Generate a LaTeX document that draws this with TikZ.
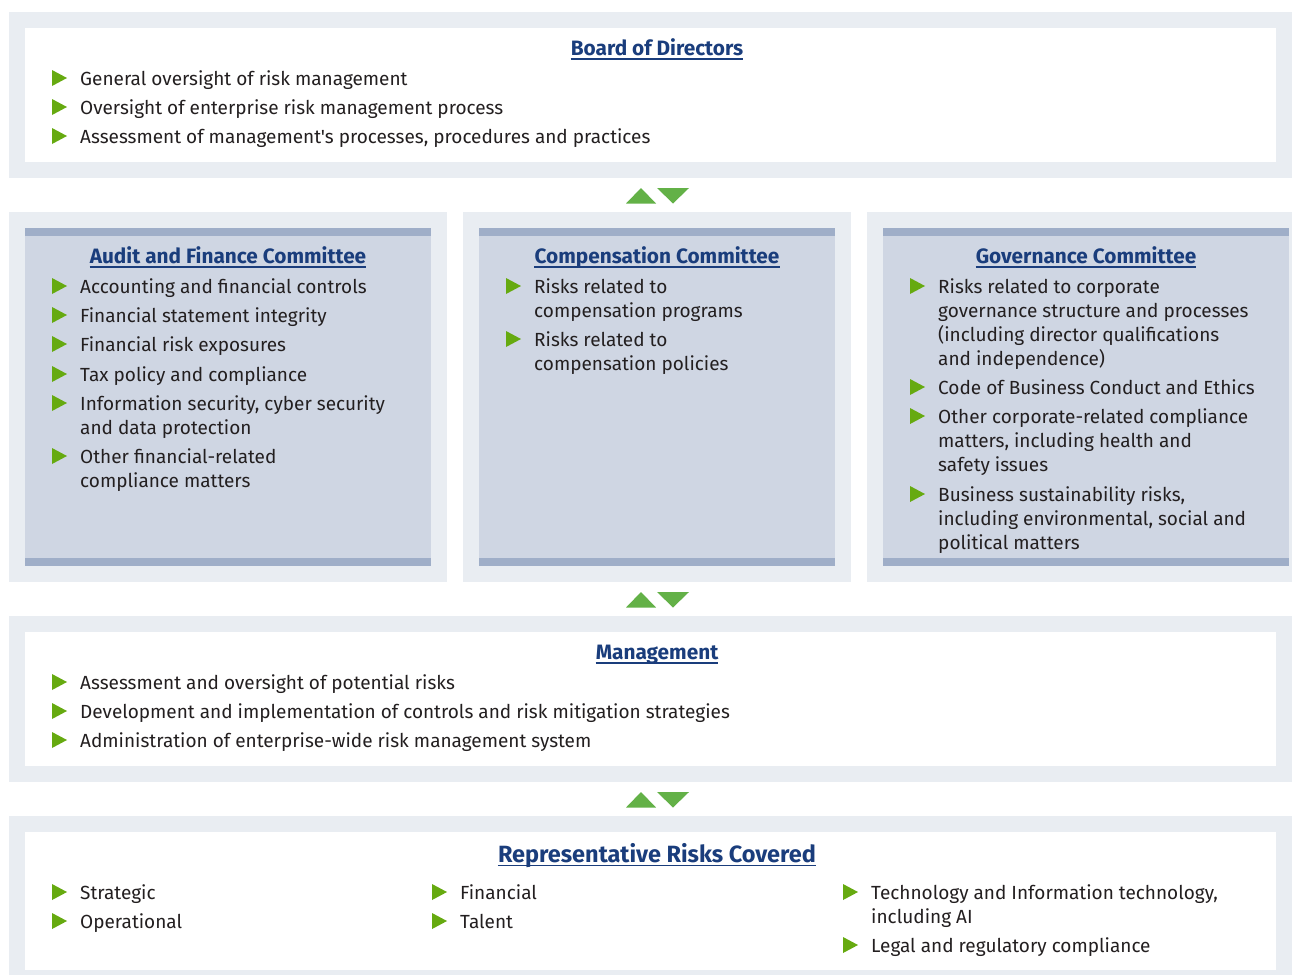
\documentclass[tikz,border=0pt]{standalone}
\usepackage{fontspec}
\setmainfont{Fira Sans}[Ligatures=TeXOff]
\definecolor{outerc}{HTML}{E9EDF2}
\definecolor{innerc}{HTML}{CFD6E3}
\definecolor{bandc}{HTML}{9FAEC8}
\definecolor{titlec}{HTML}{1A3D7C}
\definecolor{txtc}{HTML}{231F20}
\definecolor{bulg}{HTML}{66AA10}
\definecolor{arrg}{HTML}{63B147}
\tikzset{
  itemtxt/.style={anchor=base west, inner sep=0pt, font=\fontsize{19}{24}\selectfont, text=txtc},
  titletxt/.style={anchor=base, inner sep=0pt, font=\fontsize{20.8}{24}\selectfont\bfseries, text=titlec},
  uline/.style={draw=titlec, line width=1.4pt}
}
\newcommand\bitem[4]{%
  \fill[bulg] (#2-28,#3-15) -- (#2-13,#3-7) -- (#2-28,#3+1) -- cycle;
  \node[itemtxt] (#1) at (#2,#3) {\parbox[t]{1100pt}{\raggedright #4}};}
\newcommand\ttl[4][]{%
  \node[titletxt,#1] (#2) at #3 {#4};
  \draw[uline] ([yshift=-3.5pt]#2.base west) -- ([yshift=-3.5pt]#2.base east);}
\newcommand\updown[1]{%
  \fill[arrg] (626,#1+15.5) -- (641,#1) -- (656,#1+15.5) -- cycle;
  \fill[arrg] (657,#1) -- (689,#1) -- (673,#1+15.5) -- cycle;}
\newcommand\commbox[4]{% outer left, outer right, inner left, inner right
  \fill[outerc] (#1,212) rectangle (#2,582);
  \fill[innerc] (#3,228) rectangle (#4,566);
  \fill[bandc] (#3,228) rectangle (#4,236);
  \fill[bandc] (#3,558) rectangle (#4,566);}
\begin{document}
\begin{tikzpicture}[x=1pt,y=-1pt]
\useasboundingbox (0,0) rectangle (1292,975);
\fill[white] (0,0) rectangle (1292,975);
% Board
\fill[outerc] (9,12) rectangle (1292,178);
\fill[white] (25,28) rectangle (1276,162);
\ttl{tb}{(657,55.5)}{Board of Directors}
\bitem{b1}{80}{85}{General oversight of risk management}
\bitem{b2}{80}{114}{Oversight of enterprise risk management process}
\bitem{b3}{80}{143}{Assessment of management's processes, procedures and practices}
\updown{188}
% Committees
\commbox{9}{447}{25}{431}
\commbox{463}{851}{479}{835}
\commbox{867}{1292}{883}{1289}
\ttl{ta}{(228,263.5)}{Audit and Finance Committee}
\bitem{a1}{80}{293}{Accounting and financial controls}
\bitem{a2}{80}{322}{Financial statement integrity}
\bitem{a3}{80}{351}{Financial risk exposures}
\bitem{a4}{80}{381}{Tax policy and compliance}
\bitem{a5}{80}{410}{Information security, cyber security\\and data protection}
\bitem{a6}{80}{463}{Other financial-related\\compliance matters}
\ttl{tc}{(657,263.5)}{Compensation Committee}
\bitem{c1}{534}{293}{Risks related to\\compensation programs}
\bitem{c2}{534}{346}{Risks related to\\compensation policies}
\ttl{tg}{(1086,263.5)}{Governance Committee}
\bitem{g1}{938}{293}{Risks related to corporate\\governance structure and processes\\(including director qualifications\\and independence)}
\bitem{g2}{938}{394}{Code of Business Conduct and Ethics}
\bitem{g3}{938}{423}{Other corporate-related compliance\\matters, including health and\\safety issues}
\bitem{g4}{938}{501}{Business sustainability risks,\\including environmental, social and\\political matters}
\updown{592}
% Management
\fill[outerc] (9,616) rectangle (1292,782);
\fill[white] (25,632) rectangle (1276,766);
\ttl{tm}{(657,659.5)}{Management}
\bitem{m1}{80}{689}{Assessment and oversight of potential risks}
\bitem{m2}{80}{718}{Development and implementation of controls and risk mitigation strategies}
\bitem{m3}{80}{747}{Administration of enterprise-wide risk management system}
\updown{792}
% Representative risks
\fill[outerc] (9,816) rectangle (1292,975);
\fill[white] (25,832) rectangle (1276,970);
\ttl[font=\fontsize{23.5}{26}\selectfont\bfseries]{tr}{(657,862)}{Representative Risks Covered}
\bitem{r1}{80}{899}{Strategic}
\bitem{r2}{80}{928}{Operational}
\bitem{r3}{460}{899}{Financial}
\bitem{r4}{460}{928}{Talent}
\bitem{r5}{871}{899}{Technology and Information technology,\\including AI}
\bitem{r6}{871}{952}{Legal and regulatory compliance}
\end{tikzpicture}
\end{document}
